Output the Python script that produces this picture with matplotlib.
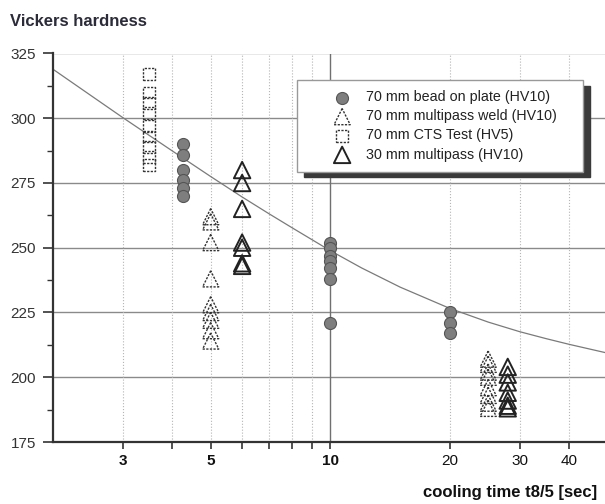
import matplotlib
matplotlib.use("Agg")
import matplotlib.pyplot as plt
from matplotlib.ticker import FixedLocator, NullFormatter

plt.rcParams["font.family"] = ["Liberation Sans", "DejaVu Sans"]

# 70 mm bead on plate (HV10)
bead_x = [4.25] * 6 + [10] * 7 + [20] * 3
bead_y = [290, 286, 280, 276, 273, 270,
          252, 250, 247, 245, 242, 238, 221,
          225, 221, 217]

# 70 mm multipass weld (HV10)
weld70_x = [5] * 9 + [25] * 8
weld70_y = [262, 260, 252, 238, 228, 225, 222, 218, 214,
            207, 205, 202, 200, 196, 193, 190, 188]

# 70 mm CTS Test (HV5)
cts_x = [3.5] * 9
cts_y = [317, 310, 306, 302, 297, 293, 289, 285, 282]

# 30 mm multipass (HV10)
mp30_x = [6] * 7 + [28] * 7
mp30_y = [280, 275, 265, 252, 250, 244, 243,
          204, 201, 198, 194, 191, 189, 188]

# fitted curve, values
fit_x = [2, 2.5, 3, 4, 5, 6, 7, 8, 10, 12, 15, 20, 25, 30, 35, 40, 50]
fit_y = [319, 308.7, 300.3, 287.4, 277.5, 269.6, 263.2, 257.8, 248.9,
         242.2, 234.8, 226.6, 221.3, 217.6, 214.9, 212.7, 209.3]

x_major = [3, 5, 10, 20, 30, 40]
x_minor = [4, 6, 7, 8, 9]
y_ticks = [175, 200, 225, 250, 275, 300, 325]

fig = plt.figure(figsize=(6.05, 5.04), dpi=100)
ax = fig.add_axes([52.7 / 605, 62 / 504, 555 / 605, 388.5 / 504])
ax.set_xscale("log")
ax.set_xlim(2, 50)
ax.set_ylim(175, 325)

# grid
for v in y_ticks[1:]:
    ax.axhline(v, color="#8a8a8a", lw=1.0, zorder=1)
for v in [3, 4, 5, 6, 7, 8, 9, 20, 30, 40]:
    ax.axvline(v, color="#b5b5b5", lw=0.8, ls=":", zorder=1)
ax.axvline(10, color="#707070", lw=1.0, zorder=1)

ax.plot(fit_x, fit_y, color="#7a7a7a", lw=0.9, zorder=2)

dots = (0, (1.6, 1.0))
ax.scatter(bead_x, bead_y, s=75, marker="o", facecolor="#7e7e7e",
           edgecolor="#555555", linewidths=0.8, zorder=3,
           label="70 mm bead on plate (HV10)")
ax.scatter(weld70_x, weld70_y, s=135, marker="^", facecolor="none",
           edgecolor="#333333", linewidths=1.0, linestyle=dots, zorder=3,
           label="70 mm multipass weld (HV10)")
ax.scatter(cts_x, cts_y, s=70, marker="s", facecolor="none",
           edgecolor="#333333", linewidths=1.0, linestyle=dots, zorder=3,
           label="70 mm CTS Test (HV5)")
ax.scatter(mp30_x, mp30_y, s=140, marker="^", facecolor="none",
           edgecolor="#222222", linewidths=1.4, zorder=3,
           label="30 mm multipass (HV10)")

# ticks
ax.xaxis.set_major_locator(FixedLocator(x_major))
ax.xaxis.set_minor_locator(FixedLocator(x_minor))
ax.xaxis.set_minor_formatter(NullFormatter())
ax.set_xticklabels([str(v) for v in x_major])
for lab, v in zip(ax.get_xticklabels(), x_major):
    if v <= 10:
        lab.set_fontweight("bold")
ax.set_yticks(y_ticks)
ax.set_yticks([187.5, 212.5, 237.5, 262.5, 287.5, 312.5], minor=True)
ax.tick_params(axis="x", which="both", direction="out", length=5,
               width=1.2, color="#333333", labelsize=11, pad=3.5,
               labelcolor="#111111")
ax.tick_params(axis="y", which="major", direction="out", length=7,
               width=1.2, color="#333333", labelsize=11, pad=5,
               labelcolor="#333333")
ax.tick_params(axis="y", which="minor", direction="out", length=4,
               width=1.0, color="#333333")

for s in ["top", "right"]:
    ax.spines[s].set_visible(False)
for s in ["left", "bottom"]:
    ax.spines[s].set_color("#333333")
    ax.spines[s].set_linewidth(1.6)

leg = ax.legend(loc="upper left", mode="expand",
                bbox_to_anchor=(297 / 605, 1 - 172 / 504, 286 / 605, 92 / 504),
                bbox_transform=fig.transFigure, frameon=True, fancybox=False,
                shadow={"ox": 5, "oy": -4, "color": "#3a3a3a", "alpha": 1},
                fontsize=10.25, borderpad=0.72, labelspacing=0.36,
                handlelength=4.9, handletextpad=-0.8, borderaxespad=0)
leg.get_frame().set_edgecolor("#999999")
leg.get_frame().set_linewidth(1.0)
for t in leg.get_texts():
    t.set_color("#222222")

fig.text(10 / 605, 1 - 21 / 504, "Vickers hardness", fontsize=12,
         fontweight="bold", color="#2b2b3a", va="center", ha="left")
fig.text(597 / 605, 1 - 493 / 504, "cooling time t8/5 [sec]", fontsize=12,
         fontweight="bold", color="#111111", va="center", ha="right")

fig.savefig("out.png", dpi=100)
